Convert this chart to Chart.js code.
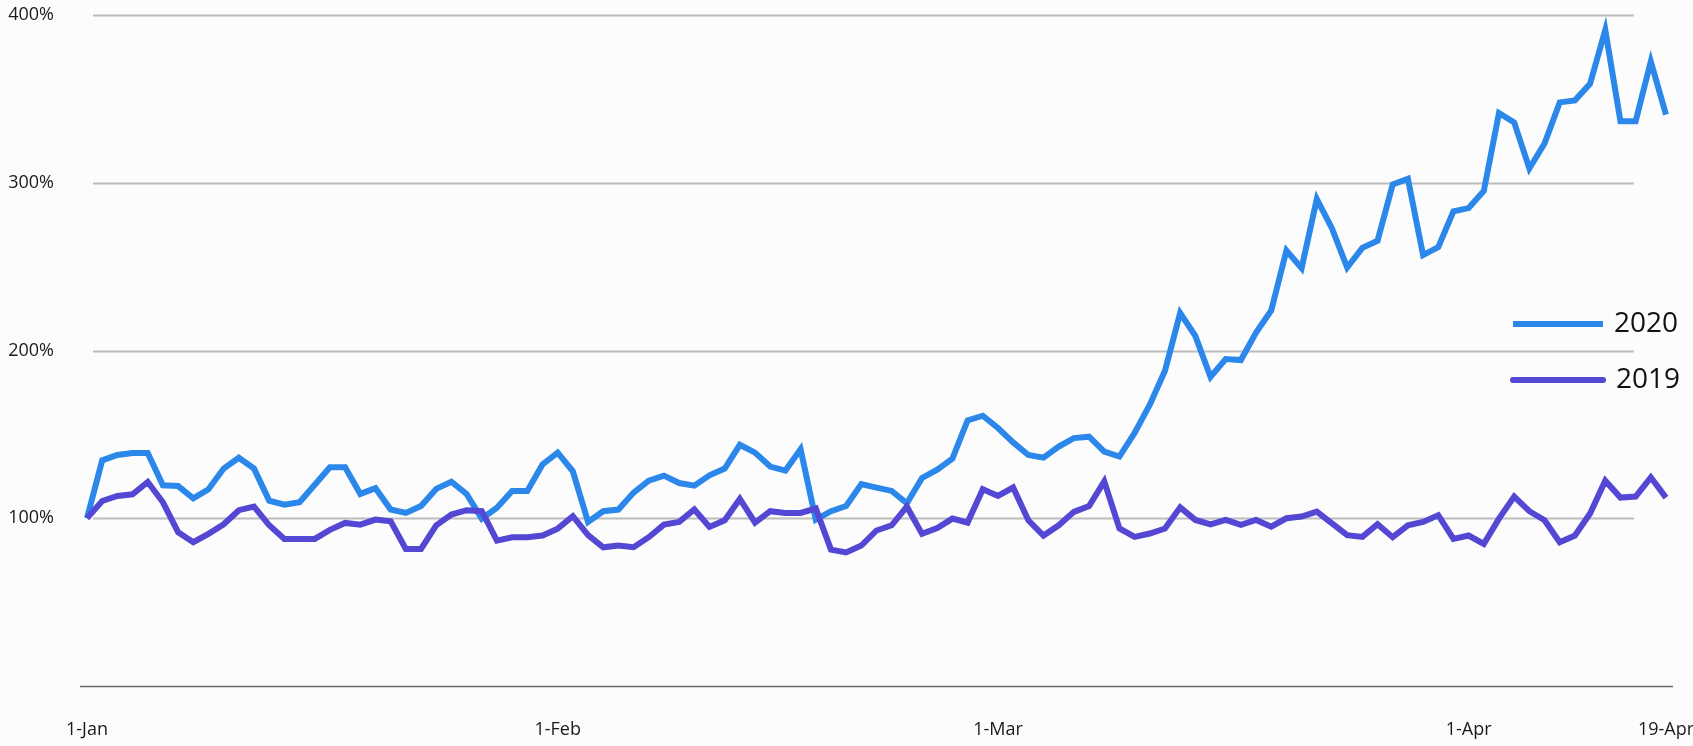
<!DOCTYPE html>
<html>
<head>
<meta charset="utf-8">
<script src="https://cdn.jsdelivr.net/npm/chart.js@4.4.1/dist/chart.umd.min.js"></script>
<style>
  html, body { margin: 0; padding: 0; background: #fcfcfc; }
  #wrap { width: 1693px; height: 746px; }
</style>
</head>
<body>
<div id="wrap"><canvas id="growthChart" width="1693" height="746"></canvas></div>
<script>
// Sumbu X: satu titik per hari, label hanya di tanggal tertentu
const dayCount = 105;
const tickIndex = [0, 31, 60, 91, 104];
const tickLabels = ['1-Jan', '1-Feb', '1-Mar', '1-Apr', '19-Apr'];

// Indeks harian (%), 1-Jan = 100
const series2020 = [
    100, 134.5, 137.7, 138.9, 138.9, 119.6, 119.2, 111.9, 117.3, 129.6,
    136.1, 129.6, 110.5, 108.1, 109.5, 120, 130.4, 130.4, 114.5, 117.9,
    105.2, 103.2, 107.3, 117.5, 121.8, 114.5, 99.8, 106.3, 116.3, 116.3,
    132.1, 139.1, 128, 97.8, 104.2, 105.2, 115.3, 122.4, 125.4, 121,
    119.4, 125.6, 129.6, 143.8, 139.1, 130.8, 128.4, 141.1, 99.2, 104.2,
    107.3, 120.4, 118.3, 116.3, 108.9, 124, 129, 135.5, 158.3, 161.1,
    153.8, 145.2, 137.7, 136.1, 142.7, 147.8, 148.6, 139.7, 136.8, 150.9,
    167.7, 187.9, 222.3, 208.7, 184.2, 194.9, 194.3, 210.7, 223.9, 259.6,
    249.1, 290.3, 272.8, 249.5, 261.2, 265.4, 299, 302.4, 256.9, 261.6,
    283, 284.9, 295.1, 341.6, 336, 308.5, 323.4, 347.9, 349.1, 359,
    391.1, 336.6, 336.6, 372.3, 340.6
];
const series2019 = [
    100, 110.3, 113.3, 114.3, 121.6, 109.5, 91.7, 85.7, 90.7, 96.4,
    104.8, 106.9, 95.8, 87.7, 87.7, 87.7, 93.1, 97.2, 96.2, 99.2,
    98.2, 81.7, 81.7, 95.8, 102.2, 104.8, 104.2, 86.7, 88.7, 88.7,
    89.7, 93.8, 101.2, 90, 82.7, 83.7, 82.7, 88.7, 96.2, 97.8,
    105.2, 94.8, 98.8, 111.5, 97.4, 104.2, 103.2, 103.2, 105.8, 81.3,
    79.6, 83.7, 92.7, 95.8, 106.9, 90.7, 94.2, 99.8, 97.4, 117.3,
    113.3, 118.3, 98.8, 89.7, 95.8, 103.8, 107.3, 122, 93.9, 88.9,
    90.9, 93.9, 106.5, 99, 96.4, 99, 96, 99, 95, 100,
    101, 104, 97, 89.9, 88.9, 96.5, 88.7, 95.8, 97.8, 101.8,
    87.7, 89.7, 84.7, 99.8, 112.9, 104.2, 98.8, 85.7, 89.7, 102.8,
    122.4, 112.3, 112.9, 124.4, 112.3
];

const yTicks = [0, 100, 200, 300, 400];

// Label kategori: kosong kecuali tanggal yang ditandai
const labels = new Array(dayCount).fill('');
tickIndex.forEach((idx, k) => { labels[idx] = tickLabels[k]; });

const axisFont = { family: "'Open Sans', sans-serif", size: 18 };

// Garis grid horizontal digambar sendiri (tidak selebar area grafik)
const gridLines = {
    id: 'gridLines',
    beforeDatasetsDraw(chart) {
        const { ctx, chartArea, scales } = chart;
        ctx.save();
        yTicks.forEach(v => {
            const y = Math.round(scales.y.getPixelForValue(v)) + 0.5;
            ctx.beginPath();
            if (v === 0) {
                ctx.strokeStyle = '#6a6a6a';
                ctx.lineWidth = 1.5;
                ctx.moveTo(chartArea.left - 7, y);
                ctx.lineTo(chartArea.right + 7, y);
            } else {
                ctx.strokeStyle = '#bcbcbc';
                ctx.lineWidth = 2;
                ctx.moveTo(chartArea.left + 6, y);
                ctx.lineTo(chartArea.right - 32, y);
            }
            ctx.stroke();
        });
        ctx.restore();
    }
};

// Legenda di dalam area grafik, sebelah kanan
const inlineLegend = {
    id: 'inlineLegend',
    afterDraw(chart) {
        const { ctx, chartArea } = chart;
        ctx.save();
        ctx.font = "28px 'Open Sans', sans-serif";
        ctx.textBaseline = 'middle';
        ctx.textAlign = 'left';
        chart.data.datasets.forEach((ds, i) => {
            const y = chartArea.top + 309 + i * 56;
            ctx.strokeStyle = ds.borderColor;
            ctx.lineWidth = 6;
            ctx.lineCap = i === 1 ? 'round' : 'butt';
            ctx.beginPath();
            ctx.moveTo(chartArea.right - 153, y);
            ctx.lineTo(chartArea.right - 63, y);
            ctx.stroke();
            ctx.fillStyle = '#111';
            ctx.fillText(ds.label, chartArea.right - 52 + i * 2, y);
        });
        ctx.restore();
    }
};

const ctx = document.getElementById('growthChart').getContext('2d');
const growthChart = new Chart(ctx, {
    type: 'line',
    data: {
        labels: labels,
        datasets: [
            {
                label: '2020',
                data: series2020,
                borderColor: 'rgb(43, 135, 234)',
                borderWidth: 6,
                pointRadius: 0,
                tension: 0,
                order: 1
            },
            {
                label: '2019',
                data: series2019,
                borderColor: 'rgb(84, 71, 212)',
                borderWidth: 6,
                pointRadius: 0,
                tension: 0,
                order: 0
            }
        ]
    },
    options: {
        responsive: false,
        devicePixelRatio: 1,
        animation: false,
        layout: { padding: { left: 0, right: 27, top: 15, bottom: 0 } },
        plugins: {
            legend: { display: false },
            tooltip: { enabled: false }
        },
        scales: {
            x: {
                grid: { display: false, drawTicks: false },
                border: { display: false },
                ticks: {
                    autoSkip: false,
                    maxRotation: 0,
                    minRotation: 0,
                    padding: 33,
                    color: '#1a1a1a',
                    font: axisFont
                },
                afterFit(scale) {
                    scale.height = 60;
                    scale.paddingLeft = 0;
                    scale.paddingRight = 0;
                }
            },
            y: {
                min: 0,
                max: 400,
                grid: { display: false, drawTicks: false },
                border: { display: false },
                ticks: {
                    stepSize: 100,
                    padding: 33,
                    color: '#1a1a1a',
                    font: axisFont,
                    callback: (v) => (v === 0 ? '' : v + '%')
                },
                afterFit(scale) {
                    scale.width = 87;
                    scale.paddingTop = 0;
                    scale.paddingBottom = 0;
                }
            }
        }
    },
    plugins: [gridLines, inlineLegend]
});
</script>
</body>
</html>
